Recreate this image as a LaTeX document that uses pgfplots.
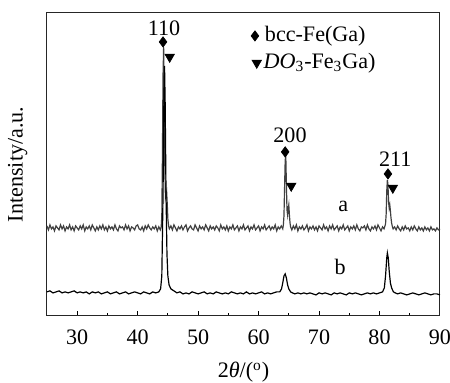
\documentclass[border=0pt]{standalone}
\usepackage{pgfplots}
\pgfplotsset{compat=1.18}
\usepackage{fontspec}
\setmainfont{Liberation Serif}
\begin{document}
\fontsize{13}{15}\selectfont
\begin{tikzpicture}[font=\fontsize{13}{15}\selectfont]
\begin{axis}[
  scale only axis, width=231.2pt, height=178.2pt,
  xmin=25, xmax=90, ymin=0, ymax=303,
  axis line style={line width=0.6pt, black!85},
  xtick={30,40,...,90}, minor xtick={35,45,...,85},
  xtick pos=bottom, tick align=inside,
  major tick length=2.6pt, minor tick length=1.6pt,
  every tick/.style={black, line width=0.6pt},
  ytick=\empty,
  /pgf/number format/assume math mode=true,
  ticklabel style={font=\fontsize{13}{15}\selectfont},
  label style={font=\fontsize{13}{15}\selectfont},
  xticklabel style={yshift=-3.5pt},
  xlabel={2\textit{θ}/(\textsuperscript{o})},
  xlabel style={yshift=-1.5pt},
  ylabel={Intensity/a.u.},
  ylabel style={yshift=7pt},
  clip=false,
]
\coordinate (bl) at (rel axis cs:0,0);
\coordinate (tr) at (rel axis cs:1,1);
% curve a
\addplot[color=black!75, line width=0.7pt, mark=none] coordinates {
(25,90)(25.25,86)(25.5,91)(25.75,87)(26,89)(26.25,85)(26.5,90)(26.75,88)(27,86)(27.25,91)(27.5,87)(27.75,90)(28,85)(28.25,89)(28.5,87)(28.75,91)(29,86)(29.25,89)(29.5,85)(29.75,90)
(30,88)(30.25,86)(30.5,90)(30.75,87)(31,91)(31.25,85)(31.5,89)(31.75,87)(32,90)(32.25,86)(32.5,91)(32.75,88)(33,85)(33.25,89)(33.5,86)(33.75,90)(34,87)(34.25,91)(34.5,86)(34.75,89)
(35,85)(35.25,90)(35.5,87)(35.75,89)(36,86)(36.25,91)(36.5,87)(36.75,85)(37,90)(37.25,88)(37.5,89)(37.75,86)(38,91)(38.25,87)(38.5,90)(38.75,85)(39,89)(39.25,88)(39.5,86)(39.75,90)
(40,91)(40.25,87)(40.5,86)(40.75,89)(41,85)(41.25,90)(41.5,87)(41.75,91)(42,88)(42.25,86)(42.5,89)(42.75,87)(43,90)(43.25,85)(43.5,89)(43.75,86)
(43.9,89)(44.0,100)(44.1,160)(44.2,240)(44.3,269)(44.4,225)(44.5,150)(44.6,118)(44.7,121)(44.8,124)(44.9,112)(45.0,97)(45.1,91)(45.2,88)
(45.25,87)(45.5,90)(45.75,86)(46,91)(46.25,88)(46.5,85)(46.75,89)(47,87)(47.25,90)(47.5,86)(47.75,89)(48,91)(48.25,85)(48.5,88)(48.75,90)(49,87)(49.25,86)(49.5,91)(49.75,88)
(50,85)(50.25,90)(50.5,87)(50.75,89)(51,86)(51.25,91)(51.5,88)(51.75,85)(52,90)(52.25,87)(52.5,89)(52.75,86)(53,90)(53.25,88)(53.5,85)(53.75,91)
(54,87)(54.25,89)(54.5,86)(54.75,90)(55,85)(55.25,89)(55.5,87)(55.75,91)(56,86)(56.25,88)(56.5,90)(56.75,85)(57,89)(57.25,87)(57.5,91)(57.75,86)
(58,88)(58.25,90)(58.5,85)(58.75,89)(59,87)(59.25,91)(59.5,86)(59.75,88)(60,90)(60.25,85)(60.5,89)(60.75,87)(61,91)(61.25,86)(61.5,88)(61.75,90)
(62,86)(62.25,89)(62.5,87)(62.75,91)(63,85)(63.25,89)(63.5,87)(63.75,90)(64,87)
(64.1,91)(64.2,100)(64.3,128)(64.4,155)(64.5,161)(64.6,132)(64.7,106)(64.8,101)(64.9,107)(65.0,111)(65.1,101)(65.2,93)(65.3,89)
(65.5,86)(65.75,90)(66,87)(66.25,91)(66.5,85)(66.75,89)(67,87)(67.25,90)(67.5,86)(67.75,88)(68,91)(68.25,85)(68.5,89)(68.75,87)(69,90)(69.25,86)(69.5,89)(69.75,85)
(70,90)(70.25,88)(70.5,86)(70.75,91)(71,87)(71.25,89)(71.5,85)(71.75,90)(72,87)(72.25,91)(72.5,86)(72.75,88)(73,90)(73.25,85)(73.5,89)(73.75,87)
(74,91)(74.25,86)(74.5,88)(74.75,90)(75,85)(75.25,89)(75.5,87)(75.75,90)(76,86)(76.25,91)(76.5,87)(76.75,85)(77,89)(77.25,88)(77.5,90)(77.75,86)
(78,91)(78.25,87)(78.5,85)(78.75,89)(79,87)(79.25,90)(79.5,86)(79.75,91)(80,88)(80.25,85)(80.5,89)(80.75,87)
(80.9,90)(81.0,92)(81.1,102)(81.2,125)(81.3,136)(81.4,131)(81.5,114)(81.6,108)(81.7,111)(81.8,105)(81.9,98)(82.0,93)(82.1,90)
(82.25,87)(82.5,89)(82.75,86)(83,90)(83.25,87)(83.5,85)(83.75,89)(84,86)(84.25,90)(84.5,87)(84.75,88)(85,85)(85.25,89)(85.5,86)(85.75,90)(86,87)(86.25,85)(86.5,89)(86.75,86)(87,88)
(87.25,85)(87.5,89)(87.75,86)(88,88)(88.25,85)(88.5,89)(88.75,86)(89,87)(89.25,85)(89.5,88)(89.75,86)(90,87)
};
% curve b
\addplot[color=black, line width=0.7pt, mark=none] coordinates {
(25,24)(25.5,25)(26,23)(26.5,24)(27,25)(27.5,23)(28,24)(28.5,23)(29,24)(29.5,25)(30,23)(30.5,24)(31,23)(31.5,24)(32,22)(32.5,24)(33,23)(33.5,24)(34,22)(34.5,23)
(35,24)(35.5,22)(36,23)(36.5,24)(37,22)(37.5,23)(38,24)(38.5,22)(39,23)(39.5,24)(40,23)(40.5,22)(41,24)(41.5,23)(42,22)(42.5,24)(43,23)(43.5,24)
(43.8,27)(44.0,40)(44.2,120)(44.35,220)(44.45,250)(44.55,215)(44.7,120)(44.85,62)(45.0,40)(45.2,31)(45.5,27)(46,25)
(46.5,23)(47,24)(47.5,22)(48,23)(48.5,22)(49,24)(49.5,23)(50,22)(50.5,23)(51,24)(51.5,22)(52,23)(52.5,22)(53,24)(53.5,23)(54,22)(54.5,23)(55,22)(55.5,24)(56,23)
(56.5,22)(57,23)(57.5,22)(58,24)(58.5,22)(59,23)(59.5,22)(60,23)(60.5,24)(61,22)(61.5,23)(62,22)(62.5,23)(63,24)(63.5,24)
(63.8,27)(64.0,33)(64.2,40)(64.4,42)(64.6,38)(64.8,31)(65.0,27)(65.3,24)(65.6,23)
(66,22)(66.5,23)(67,22)(67.5,23)(68,22)(68.5,23)(69,22)(69.5,21)(70,23)(70.5,22)(71,23)(71.5,22)(72,21)(72.5,23)(73,22)(73.5,23)(74,22)(74.5,21)(75,23)(75.5,22)
(76,23)(76.5,22)(77,21)(77.5,22)(78,23)(78.5,22)(79,23)(79.5,22)(80,23)(80.5,24)
(80.8,28)(81.0,40)(81.2,58)(81.3,63)(81.45,58)(81.6,45)(81.8,33)(82.0,28)(82.3,24)(82.6,23)
(83,22)(83.5,23)(84,22)(84.5,21)(85,22)(85.5,23)(86,22)(86.5,21)(87,22)(87.5,23)(88,22)(88.5,21)(89,22)(89.5,22)(90,21)
};
% phase markers
\addplot[only marks, mark=diamond*, mark size=3pt, black] coordinates {(44.2,274)(64.4,164)(81.4,142)(59.4,280)};
\addplot[only marks, mark=triangle*, mark size=3.2pt, black, mark options={rotate=180}] coordinates {(45.3,259)(65.4,130)(82.2,128)(59.7,253)};
\node[anchor=west, inner sep=0pt] at (axis cs:61.0,280) {bcc-Fe(Ga)};
\node[anchor=west, inner sep=0pt] at (axis cs:60.8,253) {\textit{DO}\textsubscript{3}-Fe\textsubscript{3}Ga)};
\node at (axis cs:44.35,288) {110};
\node at (axis cs:65.2,181) {200};
\node at (axis cs:82.6,157) {211};
\node at (axis cs:74.0,109) {a};
\node at (axis cs:73.5,49) {b};
\end{axis}
\pgfresetboundingbox
\path ([shift={(-27.6pt,-39.4pt)}]bl) rectangle ([shift={(5.9pt,7.6pt)}]tr);
\end{tikzpicture}
\end{document}
